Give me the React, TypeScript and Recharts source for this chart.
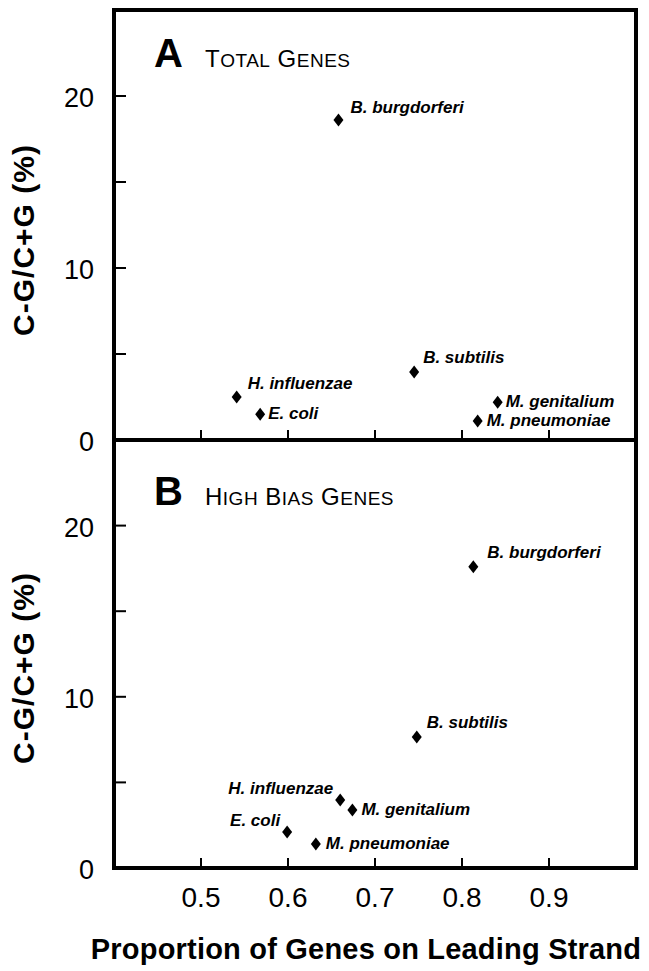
import React from "react";
import { ScatterChart, Scatter, XAxis, YAxis, ReferenceArea } from "recharts";

const species = [
  "B. burgdorferi",
  "B. subtilis",
  "H. influenzae",
  "E. coli",
  "M. genitalium",
  "M. pneumoniae",
];

// panel A: all genes
const totalLeading = [0.658, 0.745, 0.541, 0.568, 0.841, 0.818];
const totalSkew = [18.6, 3.95, 2.5, 1.5, 2.2, 1.1];

// panel B: high bias genes
const highLeading = [0.813, 0.748, 0.66, 0.599, 0.674, 0.632];
const highSkew = [17.6, 7.65, 3.97, 2.1, 3.39, 1.4];

const xTicks = [0.5, 0.6, 0.7, 0.8, 0.9];
const yTicks = [0, 5, 10, 15, 20];
const yLabelled = [0, 10, 20];

// where each species name sits next to its marker
const placeA: Record<string, [number, number, string]> = {
  "B. burgdorferi": [12, -7, "start"],
  "B. subtilis": [9, -9, "start"],
  "H. influenzae": [11, -8, "start"],
  "E. coli": [8, 5, "start"],
  "M. genitalium": [8, 5, "start"],
  "M. pneumoniae": [9, 5, "start"],
};
const placeB: Record<string, [number, number, string]> = {
  "B. burgdorferi": [14, -9, "start"],
  "B. subtilis": [10, -9, "start"],
  "H. influenzae": [-7, -6, "end"],
  "E. coli": [-7, -6, "end"],
  "M. genitalium": [9, 5, "start"],
  "M. pneumoniae": [10, 5, "start"],
};

const font = "'Liberation Sans', Arial, Helvetica, sans-serif";

const toPoints = (xs: number[], ys: number[]) =>
  species.map((name, i) => ({ name, x: xs[i], y: ys[i] }));

const totalData = toPoints(totalLeading, totalSkew);
const highData = toPoints(highLeading, highSkew);

const makeDiamond = (place: Record<string, [number, number, string]>) => (props: any) => {
  const { cx, cy, payload } = props;
  const [dx, dy, anchor] = place[payload.name];
  return (
    <g>
      <path
        d={`M${cx},${cy - 6.5}L${cx + 5},${cy}L${cx},${cy + 6.5}L${cx - 5},${cy}Z`}
        fill="#000"
      />
      <text
        x={cx + dx}
        y={cy + dy}
        textAnchor={anchor as any}
        fontFamily={font}
        fontSize={17}
        fontWeight="bold"
        fontStyle="italic"
        fill="#000"
      >
        {payload.name}
      </text>
    </g>
  );
};

const makeXTick = (showLabel: boolean) => (props: any) => {
  const { x, y, payload } = props;
  return (
    <g>
      <line x1={x} y1={y} x2={x} y2={y - 10} stroke="#000" strokeWidth={2} />
      {showLabel && (
        <text x={x} y={y + 39} textAnchor="middle" fontFamily={font} fontSize={28} fill="#000">
          {payload.value}
        </text>
      )}
    </g>
  );
};

const YTick = (props: any) => {
  const { x, y, payload } = props;
  return (
    <g>
      <line x1={x} y1={y} x2={x + 12} y2={y} stroke="#000" strokeWidth={2} />
      {yLabelled.includes(payload.value) && (
        <text x={x - 20} y={y + 11} textAnchor="end" fontFamily={font} fontSize={27} fill="#000">
          {payload.value}
        </text>
      )}
    </g>
  );
};

function PanelTitle({ letter, words, y }: { letter: string; words: string[]; y: number }) {
  return (
    <g fontFamily={font} fill="#000">
      <text x={154} y={y} fontSize={40} fontWeight="bold">
        {letter}
      </text>
      <text x={205} y={y} letterSpacing={0.5}>
        {words.map((w, i) => (
          <React.Fragment key={w}>
            <tspan fontSize={24}>{(i > 0 ? " " : "") + w[0]}</tspan>
            <tspan fontSize={19}>{w.slice(1).toUpperCase()}</tspan>
          </React.Fragment>
        ))}
      </text>
    </g>
  );
}

function YTitle({ cy }: { cy: number }) {
  return (
    <text
      x={34}
      y={cy}
      transform={`rotate(-90 34 ${cy})`}
      textAnchor="middle"
      fontFamily={font}
      fontSize={30}
      fontWeight="bold"
      letterSpacing={1}
      fill="#000"
    >
      C-G/C+G (%)
    </text>
  );
}

export default function App() {
  return (
    <div style={{ position: "absolute", left: 0, top: 0, width: 649, height: 971, background: "#fff" }}>
      <div style={{ position: "absolute", left: 0, top: 0 }}>
        <ScatterChart width={649} height={460} margin={{ top: 10, right: 13, bottom: 0, left: 0 }}>
          <XAxis
            type="number"
            dataKey="x"
            domain={[0.4, 1.0]}
            ticks={xTicks}
            interval={0}
            height={20}
            axisLine={false}
            tickLine={false}
            tickSize={0}
            tickMargin={0}
            tick={makeXTick(false)}
          />
          <YAxis
            type="number"
            dataKey="y"
            domain={[0, 25]}
            ticks={yTicks}
            interval={0}
            width={114}
            axisLine={false}
            tickLine={false}
            tickSize={0}
            tickMargin={0}
            tick={YTick}
          />
          <ReferenceArea x1={0.4} x2={1.0} y1={0} y2={25} fill="none" stroke="#000" strokeWidth={4} />
          <Scatter data={totalData} shape={makeDiamond(placeA)} isAnimationActive={false} />
          <PanelTitle letter="A" words={["Total", "Genes"]} y={67} />
          <YTitle cy={240} />
        </ScatterChart>
      </div>
      <div style={{ position: "absolute", left: 0, top: 420 }}>
        <ScatterChart width={649} height={551} margin={{ top: 20, right: 13, bottom: 0, left: 0 }}>
          <XAxis
            type="number"
            dataKey="x"
            domain={[0.4, 1.0]}
            ticks={xTicks}
            interval={0}
            height={103}
            axisLine={false}
            tickLine={false}
            tickSize={0}
            tickMargin={0}
            tick={makeXTick(true)}
          />
          <YAxis
            type="number"
            dataKey="y"
            domain={[0, 25]}
            ticks={yTicks}
            interval={0}
            width={114}
            axisLine={false}
            tickLine={false}
            tickSize={0}
            tickMargin={0}
            tick={YTick}
          />
          <ReferenceArea x1={0.4} x2={1.0} y1={0} y2={25} fill="none" stroke="#000" strokeWidth={4} />
          <Scatter data={highData} shape={makeDiamond(placeB)} isAnimationActive={false} />
          <PanelTitle letter="B" words={["High", "Bias", "Genes"]} y={85} />
          <YTitle cy={248} />
          <text
            x={366}
            y={539}
            textAnchor="middle"
            fontFamily={font}
            fontSize={29}
            fontWeight="bold"
            letterSpacing={0.2}
            fill="#000"
          >
            Proportion of Genes on Leading Strand
          </text>
        </ScatterChart>
      </div>
    </div>
  );
}
